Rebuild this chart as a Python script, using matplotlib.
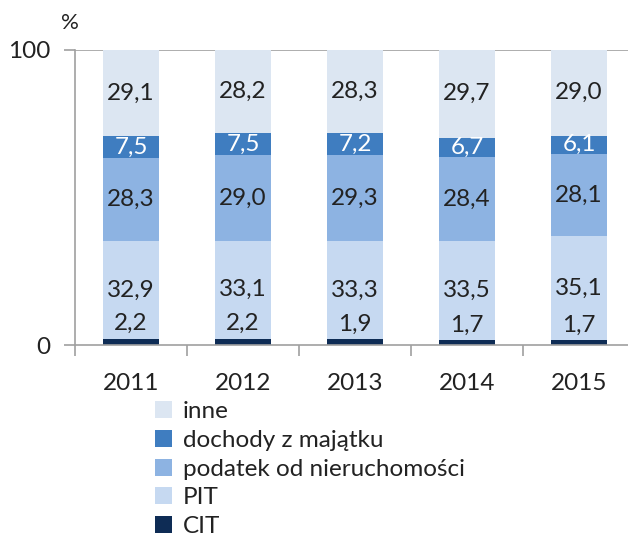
import matplotlib
matplotlib.use("Agg")
import matplotlib.pyplot as plt
from matplotlib.patches import Patch

years = ["2011", "2012", "2013", "2014", "2015"]
cit = [2.2, 2.2, 1.9, 1.7, 1.7]
pit = [32.9, 33.1, 33.3, 33.5, 35.1]
podatek = [28.3, 29.0, 29.3, 28.4, 28.1]
dochody = [7.5, 7.5, 7.2, 6.7, 6.1]
inne = [29.1, 28.2, 28.3, 29.7, 29.0]

series_names = ["CIT", "PIT", "podatek od nieruchomości", "dochody z majątku", "inne"]
colors = ["#0E2C55", "#C6D9F1", "#8DB3E2", "#3F7DC0", "#DCE6F2"]
label_colors = ["#222222", "#222222", "#222222", "white", "#222222"]

plt.rcParams['font.family'] = ['Lato', 'DejaVu Sans']

W, H = 628, 536
fig = plt.figure(figsize=(W / 100, H / 100), dpi=100)
ax = fig.add_axes([75 / W, (H - 345) / H, 560 / W, 295 / H])

x = list(range(len(years)))
series = [cit, pit, podatek, dochody, inne]
bottom = [0.0] * len(years)
fs = 17.5
for i, (vals, col) in enumerate(zip(series, colors)):
    ax.bar(x, vals, width=0.5, bottom=bottom, color=col, zorder=2)
    for j, v in enumerate(vals):
        lab = f"{v:.1f}".replace(".", ",")
        if i == 0:
            ax.annotate(lab, (x[j], bottom[j] + v), xytext=(0, 3), textcoords="offset points",
                        ha="center", va="bottom", fontsize=fs, color=label_colors[i], zorder=3)
        else:
            ax.text(x[j], bottom[j] + v / 2, lab, ha="center", va="center",
                    fontsize=fs, color=label_colors[i], zorder=3)
    bottom = [b + v for b, v in zip(bottom, vals)]

ax.set_xlim(-0.5, len(years) - 0.5)
ax.set_ylim(0, 100)
ax.set_yticks([0, 100])
ax.set_yticklabels(["0", "100"], fontsize=17.5, color="#222222")
ax.set_xticks(x)
ax.set_xticklabels(years, fontsize=17.5, color="#222222")
ax.set_xticks([k + 0.5 for k in range(-1, len(years))], minor=True)
ax.tick_params(axis="x", which="major", length=0, pad=20)
ax.tick_params(axis="x", which="minor", length=8, color="#A0A0A0", width=1.2)
ax.tick_params(axis="y", length=8, color="#A0A0A0", width=1.2, pad=10)
ax.axhline(100, color="#A0A0A0", lw=1.2, zorder=1)
for s in ["top", "right"]:
    ax.spines[s].set_visible(False)
for s in ["left", "bottom"]:
    ax.spines[s].set_color("#A0A0A0")
    ax.spines[s].set_linewidth(1.2)
    ax.spines[s].set_zorder(4)

fig.text(70 / W, 1 - 23 / H, "%", fontsize=16, color="#222222", ha="center", va="center")

handles = [Patch(facecolor=colors[i]) for i in [4, 3, 2, 1, 0]]
labels = [series_names[i] for i in [4, 3, 2, 1, 0]]
fig.legend(handles, labels, loc="upper left", bbox_to_anchor=(155 / W, 1 - 401 / H),
           frameon=False, fontsize=17.5, handlelength=0.7, handleheight=0.7,
           handletextpad=0.45, labelspacing=0.32, borderpad=0, borderaxespad=0,
           labelcolor="#222222")

fig.savefig("out.png", dpi=100)
